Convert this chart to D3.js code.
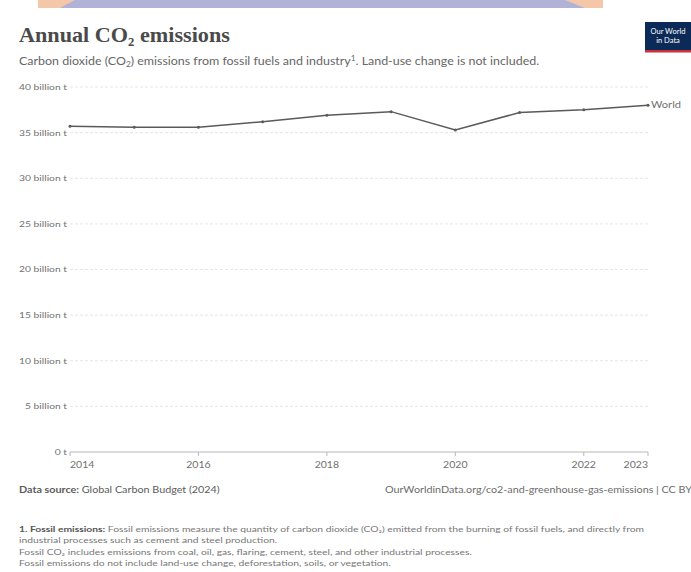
<!DOCTYPE html>
<html><head><meta charset="utf-8">
<script src="https://cdn.jsdelivr.net/npm/d3@7"></script>
<style>body{margin:0;background:#fff;} svg{display:block;}</style>
</head><body>
<svg id="c" width="691" height="572"></svg>
<script>
const years = [2014,2015,2016,2017,2018,2019,2020,2021,2022,2023];
const worldValues = [35.7,35.6,35.6,36.2,36.9,37.3,35.3,37.2,37.5,38.0]; // billion t
const yTicks = [0,5,10,15,20,25,30,35,40];
const yTickLabels = ["0 t","5 billion t","10 billion t","15 billion t","20 billion t","25 billion t","30 billion t","35 billion t","40 billion t"];
const xTicks = [2014,2016,2018,2020,2022,2023];
const seriesName = "World";
const notes = [
 ["1. Fossil emissions:", " Fossil emissions measure the quantity of carbon dioxide (CO₂) emitted from the burning of fossil fuels, and directly from"],
 ["", "industrial processes such as cement and steel production."],
 ["", "Fossil CO₂ includes emissions from coal, oil, gas, flaring, cement, steel, and other industrial processes."],
 ["", "Fossil emissions do not include land-use change, deforestation, soils, or vegetation."]
];

const svg = d3.select("#c");
const sans = "Lato, 'Noto Sans', sans-serif";

// horizontally stretch a text so that its width matches the reference
function stretch(sel, x0, k){
  sel.attr("transform", `translate(${x0},0) scale(${k},1) translate(${-x0},0)`);
}
function fitK(sel, target){ return target / sel.node().getBBox().width; }

// decorative banner strip at the top
svg.append("rect").attr("x",38).attr("y",0).attr("width",565).attr("height",8).attr("fill","#b1b2d8");
svg.append("path").attr("d","M38,0 L75,0 L60,8 L38,8Z").attr("fill","#f3c7a8");
svg.append("path").attr("d","M565,0 L603,0 L603,8 L585,8Z").attr("fill","#f3c7a8");

// logo
svg.append("rect").attr("x",645).attr("y",22).attr("width",50).attr("height",28).attr("fill","#0b2a57");
svg.append("rect").attr("x",645).attr("y",50).attr("width",50).attr("height",2.5).attr("fill","#c8303a");
svg.append("text").attr("x",668).attr("y",34).attr("text-anchor","middle").attr("fill","#fff")
  .attr("font-family",sans).attr("font-size",7.5).text("Our World");
svg.append("text").attr("x",668).attr("y",43).attr("text-anchor","middle").attr("fill","#fff")
  .attr("font-family",sans).attr("font-size",7.5).text("in Data");

// title
const t = svg.append("text").attr("x",19).attr("y",42).attr("fill","#4a4a4a")
  .attr("font-family","'Liberation Serif', 'DejaVu Serif', serif").attr("font-weight","bold").attr("font-size",21);
t.append("tspan").text("Annual CO");
t.append("tspan").attr("font-size",12).attr("dy",4).text("2");
t.append("tspan").attr("dy",-4).text(" emissions");
stretch(t, 19, fitK(t, 211));

const st = svg.append("text").attr("x",19).attr("y",65).attr("fill","#666")
  .attr("font-family",sans).attr("font-size",10.5);
st.append("tspan").text("Carbon dioxide (CO");
st.append("tspan").attr("font-size",7).attr("dy",2).text("2");
st.append("tspan").attr("dy",-2).text(") emissions from fossil fuels and industry");
st.append("tspan").attr("font-size",7).attr("dy",-4).text("1");
st.append("tspan").attr("dy",4).text(". Land-use change is not included.");
stretch(st, 19, fitK(st, 521));

// scales
const x = d3.scaleLinear().domain([2014,2023]).range([70,648]);
const y = d3.scaleLinear().domain([0,40]).range([452,87]);

// grid
const g = svg.append("g");
g.selectAll("line.grid").data(yTicks.filter(d=>d>0)).join("line")
  .attr("x1",70).attr("x2",648).attr("y1",d=>y(d)).attr("y2",d=>y(d))
  .attr("stroke","#e0e0e0").attr("stroke-dasharray","3,2").attr("stroke-width",0.8);
g.append("line").attr("x1",70).attr("x2",648).attr("y1",y(0)).attr("y2",y(0))
  .attr("stroke","#b8b8b8").attr("stroke-width",1);

// y labels
const yl = g.selectAll("text.yl").data(yTicks).join("text")
  .attr("x",67).attr("y",d=>y(d)+3).attr("text-anchor","end")
  .attr("font-family",sans).attr("font-size",8.5).attr("fill","#707070")
  .text((d,i)=>yTickLabels[i]);
const kY = fitK(yl.filter(d=>d===40), 48);
yl.each(function(){ stretch(d3.select(this), 67, kY); });

// x ticks & labels
g.selectAll("line.xt").data(xTicks).join("line")
  .attr("x1",d=>x(d)).attr("x2",d=>x(d)).attr("y1",y(0)).attr("y2",y(0)+4)
  .attr("stroke","#b8b8b8");
const xl = g.selectAll("text.xl").data(xTicks).join("text")
  .attr("x",d=>x(d)).attr("y",468)
  .attr("text-anchor",(d,i)=> i===0?"start":(i===xTicks.length-1?"end":"middle"))
  .attr("font-family",sans).attr("font-size",9.5).attr("fill","#707070")
  .text(d=>d);
const kX = fitK(xl.filter((d,i)=>i===0), 25);
xl.each(function(d){ stretch(d3.select(this), x(d), kX); });

// line
const data = years.map((yr,i)=>({yr,v:worldValues[i]}));
svg.append("path").datum(data)
  .attr("d", d3.line().x(d=>x(d.yr)).y(d=>y(d.v)))
  .attr("fill","none").attr("stroke","#5a5a5a").attr("stroke-width",1.5);
svg.selectAll("circle.pt").data(data).join("circle")
  .attr("cx",d=>x(d.yr)).attr("cy",d=>y(d.v)).attr("r",1.5).attr("fill","#5a5a5a");
const last = data[data.length-1];
const wl = svg.append("text").attr("x",x(last.yr)+3).attr("y",y(last.v)+3)
  .attr("font-family",sans).attr("font-size",9.5).attr("fill","#707070").text(seriesName);
stretch(wl, x(last.yr)+3, fitK(wl, 30));

// footer
const ds = svg.append("text").attr("x",19).attr("y",493).attr("font-family",sans).attr("font-size",8.8).attr("fill","#5b5b5b");
ds.append("tspan").attr("font-weight","bold").text("Data source:");
ds.append("tspan").text(" Global Carbon Budget (2024)");
const kF = fitK(ds, 201);
stretch(ds, 19, kF);
const url = svg.append("text").attr("x",385).attr("y",493).attr("font-family",sans).attr("font-size",8.8).attr("fill","#6b6b6b")
  .text("OurWorldinData.org/co2-and-greenhouse-gas-emissions | CC BY");
stretch(url, 385, kF);

// notes
let kN = 1;
notes.forEach((n,i)=>{
  const tx = svg.append("text").attr("x",19).attr("y",532+i*11.4)
    .attr("font-family",sans).attr("font-size",7.8).attr("fill","#777");
  if(n[0]) tx.append("tspan").attr("font-weight","bold").attr("fill","#555").text(n[0]);
  tx.append("tspan").text(n[1]);
  if(i===0) kN = fitK(tx, 626);
  stretch(tx, 19, kN);
});
</script>
</body></html>
